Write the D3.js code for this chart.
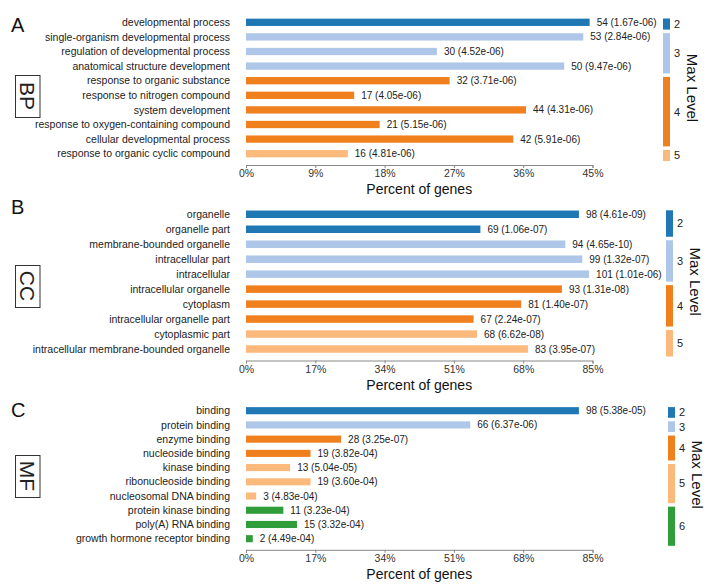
<!DOCTYPE html>
<html>
<head>
<meta charset="utf-8">
<title>GO enrichment</title>
<style>
body { margin: 0; background: #fff; }
svg { font-family: "Liberation Sans", Arial, sans-serif; }
.lbl { font-size: 10.5px; fill: #222; }
.val { font-size: 10px; fill: #222; }
.axis path, .axis line { stroke: #888; }
.axis text { font-size: 10.5px; fill: #333; }
</style>
</head>
<body>
<svg></svg>
<script src="https://cdn.jsdelivr.net/npm/d3@7/dist/d3.min.js"></script>
<script>

/* data */
var bpTerms = ["developmental process","single-organism developmental process","regulation of developmental process",
	"anatomical structure development","response to organic substance","response to nitrogen compound",
	"system development","response to oxygen-containing compound","cellular developmental process",
	"response to organic cyclic compound"];
var bpCounts = [54,53,30,50,32,17,44,21,42,16];
var bpPvals = ["1.67e-06","2.84e-06","4.52e-06","9.47e-06","3.71e-06","4.05e-06","4.31e-06","5.15e-06","5.91e-06","4.81e-06"];
var bpLevels = [2,3,3,3,4,4,4,4,4,5];
var bpTicks = [0,9,18,27,36,45];

var ccTerms = ["organelle","organelle part","membrane-bounded organelle","intracellular part","intracellular",
	"intracellular organelle","cytoplasm","intracellular organelle part","cytoplasmic part",
	"intracellular membrane-bounded organelle"];
var ccCounts = [98,69,94,99,101,93,81,67,68,83];
var ccPvals = ["4.61e-09","1.06e-07","4.65e-10","1.32e-07","1.01e-06","1.31e-08","1.40e-07","2.24e-07","6.62e-08","3.95e-07"];
var ccLevels = [2,2,3,3,3,4,4,4,5,5];
var ccTicks = [0,17,34,51,68,85];

var mfTerms = ["binding","protein binding","enzyme binding","nucleoside binding","kinase binding",
	"ribonucleoside binding","nucleosomal DNA binding","protein kinase binding","poly(A) RNA binding",
	"growth hormone receptor binding"];
var mfCounts = [98,66,28,19,13,19,3,11,15,2];
var mfPvals = ["5.38e-05","6.37e-06","3.25e-07","3.82e-04","5.04e-05","3.60e-04","4.83e-04","3.23e-04","3.32e-04","4.49e-04"];
var mfLevels = [2,3,4,4,5,5,5,6,6,6];
var mfTicks = [0,17,34,51,68,85];

// genes annotated in each ontology (denominator of the percent)
var totals = {BP:121, CC:120, MF:120};

var levelColors = {2:"#1f77b4",3:"#aec7e8",4:"#f07f1e",5:"#fbb97c",6:"#2f9e3a"};

/* layout */
var W = 724, H = 588;
var x0 = 246, x1 = 592.5;

var svg = d3.select("svg").attr("width",W).attr("height",H);

function panel(opt) {
	var g = svg.append("g");
	var total = totals[opt.name];
	var rows = opt.terms.map(function(t,i) {
		return {term:t, count:opt.counts[i], p:opt.pvals[i], level:opt.levels[i], pct:100*opt.counts[i]/total};
	});

	var x = d3.scaleLinear().domain([0,d3.max(opt.ticks)]).range([x0,x1]);
	var y = d3.scaleBand().domain(opt.terms).range([opt.top,opt.bottom]);
	var bw = y.bandwidth();
	var barH = bw*0.5;

	//panel letter
	g.append("text")
		.attr("x",11).attr("y",opt.letterY)
		.style("font-size","20px").style("fill","#111")
		.text(opt.letter);

	//boxed ontology name
	g.append("rect")
		.attr("x",15.5).attr("y",opt.boxY+0.5)
		.attr("width",24.5).attr("height",42)
		.style("fill","none").style("stroke","#333");
	g.append("text")
		.attr("transform","translate(27.75,"+(opt.boxY+21)+") rotate(90)")
		.attr("text-anchor","middle").attr("dy","0.35em")
		.style("font-size","21px").style("fill","#222").style("font-weight","300")
		.text(opt.name);

	//category labels
	g.selectAll(".lbl").data(rows).enter().append("text")
		.attr("class","lbl")
		.attr("x",230)
		.attr("y",function(d){return y(d.term)+bw/2;})
		.attr("dy","0.35em")
		.attr("text-anchor","end")
		.text(function(d){return d.term;});

	//bars
	g.selectAll(".bar").data(rows).enter().append("rect")
		.attr("class","bar")
		.attr("x",x(0))
		.attr("y",function(d){return y(d.term)+(bw-barH)/2;})
		.attr("width",function(d){return x(d.pct)-x(0);})
		.attr("height",barH)
		.style("fill",function(d){return levelColors[d.level];});

	g.selectAll(".val").data(rows).enter().append("text")
		.attr("class","val")
		.attr("x",function(d){return x(d.pct)+7;})
		.attr("y",function(d){return y(d.term)+bw/2;})
		.attr("dy","0.35em")
		.text(function(d){return d.count+" ("+d.p+")";});

	//axis
	var axisY = opt.bottom+4;
	g.append("g").attr("class","axis")
		.attr("transform","translate(0,"+axisY+")")
		.call(d3.axisBottom(x).tickValues(opt.ticks).tickSize(3).tickSizeOuter(3)
			.tickFormat(function(d){return d+"%";}))
		.call(function(a){ a.selectAll("text").attr("y",5); });
	g.append("text")
		.attr("x",(x0+x1)/2).attr("y",axisY+29)
		.attr("text-anchor","middle")
		.style("font-size","14px").style("fill","#111")
		.text("Percent of genes");

	//legend: one segment per run of equal levels
	var segs = [];
	rows.forEach(function(d){
		var last = segs[segs.length-1];
		if (last && last.level===d.level) last.terms.push(d.term);
		else segs.push({level:d.level, terms:[d.term]});
	});
	var lg = g.append("g");
	segs.forEach(function(s){
		var top = y(s.terms[0])+3.5;
		var bot = y(s.terms[s.terms.length-1])+bw;
		lg.append("rect")
			.attr("x",opt.legX).attr("y",top)
			.attr("width",7).attr("height",bot-top)
			.style("fill",levelColors[s.level]);
		lg.append("text")
			.attr("x",opt.legX+11).attr("y",(top+bot)/2)
			.attr("dy","0.35em")
			.style("font-size","11px").style("fill","#222")
			.text(s.level);
	});
	g.append("text")
		.attr("transform","translate("+(opt.legX+29)+","+((opt.top+opt.bottom)/2)+") rotate(90)")
		.attr("text-anchor","middle").attr("dy","0.35em")
		.style("font-size","15px").style("fill","#111")
		.text("Max Level");
}

panel({name:"BP", letter:"A", terms:bpTerms, counts:bpCounts, pvals:bpPvals, levels:bpLevels, ticks:bpTicks,
	top:15, bottom:161, letterY:32, boxY:75, legX:663});
panel({name:"CC", letter:"B", terms:ccTerms, counts:ccCounts, pvals:ccPvals, levels:ccLevels, ticks:ccTicks,
	top:206.8, bottom:356.5, letterY:214, boxY:265, legX:666});
panel({name:"MF", letter:"C", terms:mfTerms, counts:mfCounts, pvals:mfPvals, levels:mfLevels, ticks:mfTicks,
	top:403.6, bottom:545.8, letterY:417, boxY:455, legX:668});

</script>
</body>
</html>
